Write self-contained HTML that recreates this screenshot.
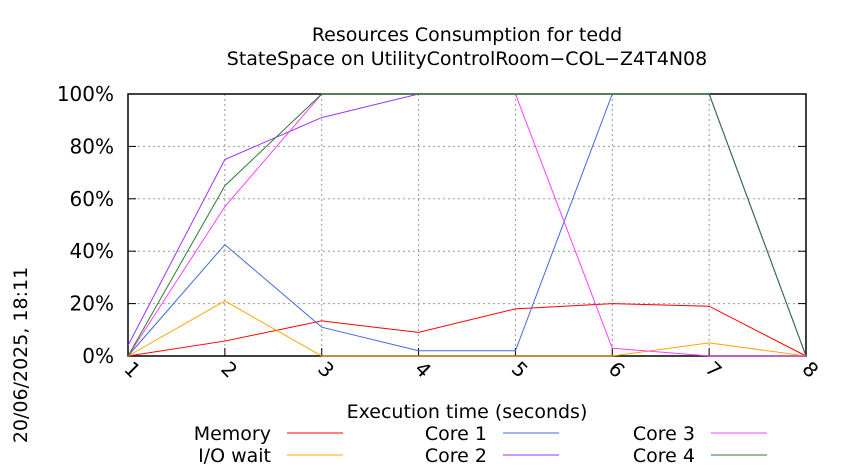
<!DOCTYPE html>
<html><head><meta charset="utf-8"><style>
body{margin:0;background:#fff;}
svg{font-family:"DejaVu Sans","Liberation Sans",sans-serif;display:block}
</style></head><body>
<svg width="850" height="475" viewBox="0 0 850 475" xmlns="http://www.w3.org/2000/svg">
<text x="467" y="41" text-anchor="middle" font-size="19">Resources Consumption for tedd</text>
<text x="467" y="65" text-anchor="middle" font-size="19">StateSpace on UtilityControlRoom−COL−Z4T4N08</text>
<text transform="translate(27,355) rotate(-90)" text-anchor="middle" font-size="19">20/06/2025, 18:11</text>
<text x="467" y="418" text-anchor="middle" font-size="19">Execution time (seconds)</text>
<g id="grid"></g><g id="axes"></g><g id="series"></g><g id="legend"></g>
</svg>
<script>
const categories=[1,2,3,4,5,6,7,8];
const yTicks=[0,20,40,60,80,100];
const memory=[0,5.7,13.4,9,18,20,19,0];
const iowait=[0,21,0,0,0,0,5,0];
const core1=[0,42.5,11,2,2,100,100,0];
const core2=[4,75,91,100,100,100,100,0];
const core3=[0,57,100,100,100,3,0,0];
const core4=[0,65,100,100,100,100,100,0];
const seriesNames=["Memory","I/O wait","Core 1","Core 2","Core 3","Core 4"];
const seriesData=[memory,iowait,core1,core2,core3,core4];
const colors=["#ff0000","#ffa500","#4169e1","#9932ff","#ff40ff","#2e7d32"];
const X0=128,X1=806,Y0=356,Y1=94;
const xs=v=>X0+(v-1)*(X1-X0)/7;
const ys=v=>Y0-v*(Y0-Y1)/100;
const NS="http://www.w3.org/2000/svg";
function mk(t,a,p){const e=document.createElementNS(NS,t);for(const k in a)e.setAttribute(k,a[k]);p.appendChild(e);return e;}
const grid=document.getElementById('grid'),axes=document.getElementById('axes'),ser=document.getElementById('series'),leg=document.getElementById('legend');
yTicks.forEach(t=>{
 const l=mk('line',{x1:X0,x2:X1,y1:ys(t),y2:ys(t),stroke:'#999','stroke-dasharray':'2,3'},grid);
 
 
 const tx=mk('text',{x:X0-14,y:ys(t)+7,'text-anchor':'end','font-size':'20'},axes);tx.textContent=t+'%';
 
 
 mk('line',{x1:X0,x2:X0+8,y1:ys(t),y2:ys(t),stroke:'#000'},axes);
 mk('line',{x1:X1,x2:X1-8,y1:ys(t),y2:ys(t),stroke:'#000'},axes);
});
categories.forEach(c=>{
 const l=mk('line',{x1:xs(c),x2:xs(c),y1:Y0,y2:Y1,stroke:'#999','stroke-dasharray':'2,3'},grid);
 
 
 mk('line',{x1:xs(c),x2:xs(c),y1:Y0,y2:Y0-8,stroke:'#000'},axes);
 const tx=mk('text',{transform:`translate(${xs(c)-5},${Y0+14}) rotate(45)`,'font-size':'20'},axes);tx.textContent=c;
 
 
});
const fr=mk('rect',{x:X0,y:Y1,width:X1-X0,height:Y0-Y1,fill:'none',stroke:'#000','stroke-width':1.5},axes);


seriesData.forEach((d,i)=>{
 const p=mk('polyline',{points:d.map((v,j)=>xs(categories[j])+','+ys(v)).join(' '),fill:'none',stroke:colors[i],'stroke-width':1},ser);
 
 
});
const lx=[271,487,695],ly=[440,462];
seriesData.forEach((d,i)=>{
 const col=Math.floor(i/2),row=i%2;
 const g=mk('g',{},leg);
 
 
 const t=mk('text',{x:lx[col],y:ly[row],'text-anchor':'end','font-size':'19'},g);t.textContent=seriesNames[i];
 mk('line',{x1:lx[col]+16,x2:lx[col]+72,y1:ly[row]-7,y2:ly[row]-7,stroke:colors[i]},g);
});
</script>
</body></html>
